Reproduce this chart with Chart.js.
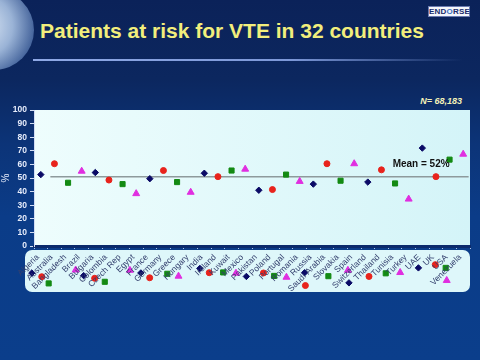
<!DOCTYPE html>
<html>
<head>
<meta charset="utf-8">
<script src="https://cdn.jsdelivr.net/npm/chart.js@4.4.0/dist/chart.umd.min.js"></script>
<style>
  body { margin: 0; }
  #slide {
    position: relative; width: 480px; height: 360px; overflow: hidden;
    background: linear-gradient(180deg, #0b2259 0%, #0c275f 22%, #0c3478 40%, #0b3c88 60%, #0b3e8b 100%);
    font-family: Arial, "Liberation Sans", sans-serif;
  }
  #globe {
    position: absolute; left: -46px; top: -10px; width: 80px; height: 80px; border-radius: 50%;
    background: radial-gradient(circle at 35% 45%, rgba(235,245,255,0.95) 0%, rgba(190,215,245,0.8) 45%, rgba(120,160,220,0.45) 80%, rgba(80,120,200,0) 100%);
  }
  #title {
    position: absolute; left: 40px; top: 19px; color: #f2ee7c;
    font: bold 21px Arial, "Liberation Sans", sans-serif; white-space: nowrap;
  }
  #rule {
    position: absolute; left: 33px; top: 59px; width: 430px; height: 2px;
    background: linear-gradient(90deg, #8fa9e6 0%, #7d98d8 60%, rgba(90,120,200,0) 100%);
  }
  #logo {
    position: absolute; left: 428px; top: 6px; width: 40px; height: 9px;
    background: #f4f6fb; border: 1px solid #6a7ab0; color: #1a2a6a;
    font: bold 8px Arial, "Liberation Sans", sans-serif; line-height: 9px; text-align: center; letter-spacing: 0.2px;
  }
  #logo span { color: #3d6fc0; }
  #nlabel {
    position: absolute; right: 18px; top: 96px; color: #f4f2b8;
    font: italic bold 9px Arial, "Liberation Sans", sans-serif;
  }
  canvas { position: absolute; left: 0; top: 0; }
</style>
</head>
<body>
<div id="slide">
  <div id="globe"></div>
  <div id="rule"></div>
  <div id="title">Patients at risk for VTE in 32 countries</div>
  <div id="logo">END<span>O</span>RSE</div>
  <div id="nlabel">N= 68,183</div>
  <canvas id="chart" width="480" height="360"></canvas>
</div>
<script>
// data
const countries = ["Algeria", "Australia", "Bangladesh", "Brazil", "Bulgaria", "Colombia", "Czech Rep", "Egypt",
  "France", "Germany", "Greece", "Hungary", "India", "Ireland", "Kuwait", "Mexico",
  "Pakistan", "Poland", "Portugal", "Romania", "Russia", "Saudi Arabia", "Slovakia", "Spain",
  "Switzerland", "Thailand", "Tunisia", "Turkey", "UAE", "UK", "USA", "Venezuela"];
const riskPct = [52.5, 60.5, 46.5, 55, 54, 48.5, 45.5, 38.5,
  49.5, 55.5, 47, 39.5, 53.5, 51, 55.5, 56.5,
  41, 41.5, 52.5, 47.5, 45.5, 60.5, 48, 60.5,
  47, 56, 46, 34.5, 72, 51, 63.5, 67.5];
const meanPct = 51;
const meanFrom = 1.7, meanTo = 32.4;
const meanText = "Mean = 52%";
const yTicks = [0, 10, 20, 30, 40, 50, 60, 70, 80, 90, 100];

const styles = ["rectRot", "circle", "rect", "triangle"];
const colors = ["#0a0a66", "#e8231c", "#138a13", "#e02ee0"];
const radii = [3.2, 3, 3.6, 4];

function marker(ctx, i, x, y) {
  const k = i % 4;
  ctx.save();
  ctx.fillStyle = colors[k];
  ctx.strokeStyle = colors[k];
  Chart.helpers.drawPoint(ctx, { pointStyle: styles[k], radius: radii[k], rotation: 0, borderWidth: 1 }, x, y);
  ctx.restore();
}

const slidePlugin = {
  id: "slide",
  beforeDraw(chart) {
    const { ctx, chartArea: a } = chart;
    ctx.save();
    const g = ctx.createLinearGradient(a.left, 0, a.right, 0);
    g.addColorStop(0, "#eefdfd");
    g.addColorStop(1, "#d4f4f8");
    ctx.fillStyle = g;
    ctx.fillRect(a.left, a.top, a.right - a.left, a.bottom - a.top);
    // label panel under the axis
    ctx.fillStyle = "#def7fa";
    ctx.beginPath();
    ctx.roundRect(a.left - 9, a.bottom + 4, a.right - a.left + 9, 42, 7);
    ctx.fill();
    ctx.restore();
  },
  afterDraw(chart) {
    const { ctx, chartArea: a, scales } = chart;
    const xs = scales.x, ys = scales.y;
    ctx.save();
    ctx.font = "8.5px Arial, 'Liberation Sans', sans-serif";
    countries.forEach((c, i) => {
      const x = xs.getPixelForValue(i + 1);
      const w = ctx.measureText(c).width;
      ctx.save();
      ctx.translate(x - 3, a.bottom + 10);
      ctx.rotate(-Math.PI / 4);
      ctx.fillStyle = "#34406e";
      ctx.textAlign = "right";
      ctx.textBaseline = "middle";
      ctx.fillText(c, 0, 0);
      ctx.restore();
      const d = 0.8 * w * Math.SQRT1_2;
      marker(ctx, i, x + 6 - d, a.bottom + 12 + d);
    });
    // mean label
    const ym = ys.getPixelForValue(meanPct);
    ctx.font = "bold 10px Arial, 'Liberation Sans', sans-serif";
    ctx.fillStyle = "#111111";
    ctx.textAlign = "right";
    ctx.textBaseline = "middle";
    ctx.fillText(meanText, xs.getPixelForValue(meanTo) - 19, ym - 12);
    ctx.restore();
  }
};

new Chart(document.getElementById("chart"), {
  type: "scatter",
  data: {
    datasets: [
      {
        type: "line",
        data: [{ x: meanFrom, y: meanPct }, { x: meanTo, y: meanPct }],
        borderColor: "#8e9a9c",
        borderWidth: 1.5,
        pointRadius: 0,
        order: 2
      },
      {
        data: riskPct.map((v, i) => ({ x: i + 1, y: v })),
        pointStyle: c => styles[c.dataIndex % 4],
        backgroundColor: c => colors[c.dataIndex % 4],
        borderColor: c => colors[c.dataIndex % 4],
        pointRadius: c => radii[c.dataIndex % 4],
        borderWidth: 1,
        order: 1
      }
    ]
  },
  options: {
    responsive: false,
    devicePixelRatio: 1,
    animation: false,
    layout: { padding: { top: 110, right: 10, bottom: 110, left: 0 } },
    plugins: { legend: { display: false }, tooltip: { enabled: false } },
    scales: {
      x: {
        type: "linear",
        min: 0.5,
        max: 32.5,
        afterBuildTicks: s => { s.ticks = countries.concat([""]).map((c, i) => ({ value: i + 0.5 })); },
        afterFit: s => { s.height = 4; },
        ticks: { display: false },
        grid: { drawOnChartArea: false, tickLength: 3, color: "#a9c4ea" },
        border: { color: "#0b2a6c", width: 3 }
      },
      y: {
        min: 0,
        max: 100,
        afterBuildTicks: s => { s.ticks = yTicks.map(v => ({ value: v })); },
        afterFit: s => { s.width = 34; },
        ticks: { color: "#e6ecfb", font: { size: 8.5, weight: "bold", family: "Arial, 'Liberation Sans', sans-serif" }, padding: 3 },
        grid: { drawOnChartArea: false, tickLength: 4, color: "#d2ddf4" },
        border: { color: "#d2ddf4", width: 1 },
        title: { display: true, text: "%", color: "#e6ecfb", padding: 0, font: { size: 10, family: "Arial, 'Liberation Sans', sans-serif" } }
      }
    }
  },
  plugins: [slidePlugin]
});
</script>
</body>
</html>
